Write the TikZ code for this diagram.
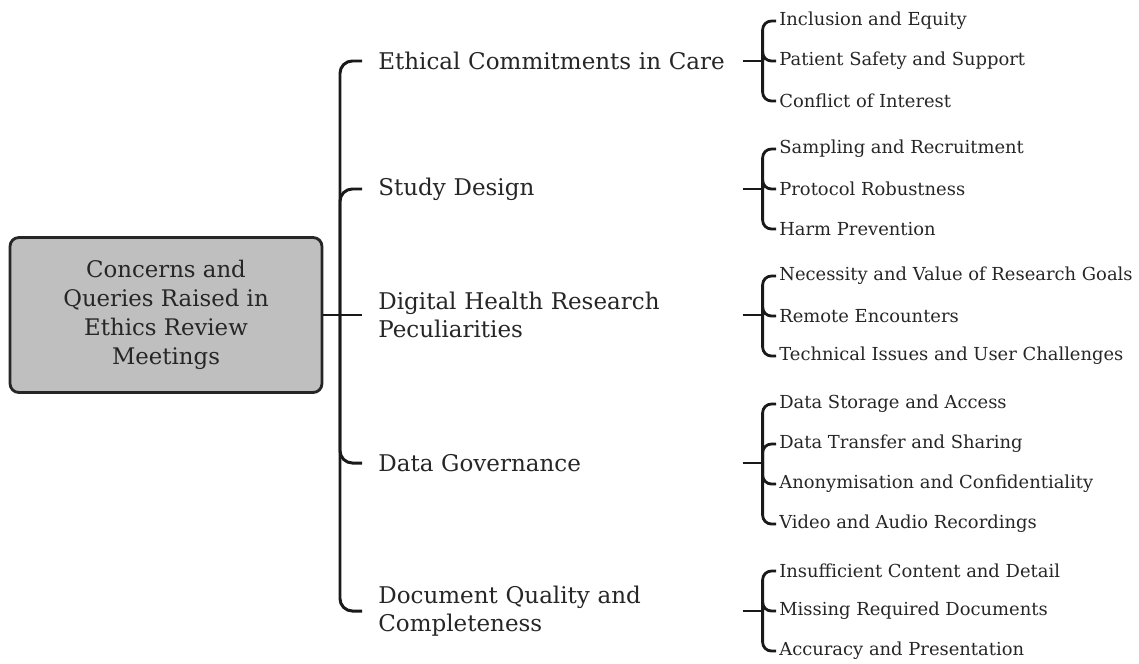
\documentclass[tikz,border=0pt]{standalone}
\usepackage{fontspec}
\setmainfont{DejaVu Serif}
\colorlet{reviewText}{black!85}
\colorlet{reviewFill}{black!25}
\tikzstyle{root}=[draw=black!85, fill=reviewFill, line width=1.6pt, rounded corners=5pt, minimum width=6.24cm, minimum height=3.1cm, align=center, text=reviewText, font=\fontsize{13}{16.4}\selectfont]
\tikzstyle{theme}=[anchor=west, inner xsep=0.32cm, text width=6.96cm, align=left, text=reviewText, font=\fontsize{13.1}{15.9}\selectfont]
\tikzstyle{code}=[anchor=west, inner xsep=0.06cm, text=reviewText, font=\fontsize{10.2}{11}\selectfont]
\tikzstyle{bracket}=[black!90, line width=1.7pt, rounded corners=7pt]
\tikzstyle{subbracket}=[black!90, line width=1.6pt, rounded corners=5pt]

\begin{document}
\begin{tikzpicture}[x=0.02cm, y=-0.02cm]
				\useasboundingbox (0,0) rectangle (1139,663);

				\node[root] (R) at (166,315) {Concerns and\\Queries Raised in\\Ethics Review\\Meetings};
				\coordinate (hub) at (340,315);

				\node[theme] (T1) at (362,61) {Ethical Commitments in Care};
				\node[theme] (T2) at (362,189) {Study Design};
				\node[theme] (T3) at (362,315) {Digital Health Research\\Peculiarities};
				\node[theme] (T4) at (362,463) {Data Governance};
				\node[theme] (T5) at (362,611) {Document Quality and\\Completeness};

				\draw[bracket] (R.east) -- (hub);
				\draw[bracket] (hub) |- (T1.west);
				\draw[bracket] (hub) |- (T2.west);
				\draw[bracket] (hub) -- (T3.west);
				\draw[bracket] (hub) |- (T4.west);
				\draw[bracket] (hub) |- (T5.west);

				\node[code] (C11) at (776,21) {Inclusion and Equity};
				\node[code] (C12) at (776,61) {Patient Safety and Support};
				\node[code] (C13) at (776,101) {Conflict of Interest};

				\node[code] (C21) at (776,149) {Sampling and Recruitment};
				\node[code] (C22) at (776,189) {Protocol Robustness};
				\node[code] (C23) at (776,229) {Harm Prevention};

				\node[code] (C31) at (776,276) {Necessity and Value of Research Goals};
				\node[code] (C32) at (776,316) {Remote Encounters};
				\node[code] (C33) at (776,356) {Technical Issues and User Challenges};

				\node[code] (C41) at (776,404) {Data Storage and Access};
				\node[code] (C42) at (776,444) {Data Transfer and Sharing};
				\node[code] (C43) at (776,484) {Anonymisation and Confidentiality};
				\node[code] (C44) at (776,524) {Video and Audio Recordings};

				\node[code] (C51) at (776,571) {Insufficient Content and Detail};
				\node[code] (C52) at (776,611) {Missing Required Documents};
				\node[code] (C53) at (776,651) {Accuracy and Presentation};

				\draw[subbracket] (T1.east) -- ++(20,0) coordinate (J1);
				\draw[subbracket] (J1) |- (C11.west);
				\draw[subbracket] (J1) |- (C12.west);
				\draw[subbracket] (J1) |- (C13.west);

				\draw[subbracket] (T2.east) -- ++(20,0) coordinate (J2);
				\draw[subbracket] (J2) |- (C21.west);
				\draw[subbracket] (J2) |- (C22.west);
				\draw[subbracket] (J2) |- (C23.west);

				\draw[subbracket] (T3.east) -- ++(20,0) coordinate (J3);
				\draw[subbracket] (J3) |- (C31.west);
				\draw[subbracket] (J3) |- (C32.west);
				\draw[subbracket] (J3) |- (C33.west);

				\draw[subbracket] (T4.east) -- ++(20,0) coordinate (J4);
				\draw[subbracket] (J4) |- (C41.west);
				\draw[subbracket] (J4) |- (C42.west);
				\draw[subbracket] (J4) |- (C43.west);
				\draw[subbracket] (J4) |- (C44.west);

				\draw[subbracket] (T5.east) -- ++(20,0) coordinate (J5);
				\draw[subbracket] (J5) |- (C51.west);
				\draw[subbracket] (J5) |- (C52.west);
				\draw[subbracket] (J5) |- (C53.west);
			\end{tikzpicture}
\end{document}
